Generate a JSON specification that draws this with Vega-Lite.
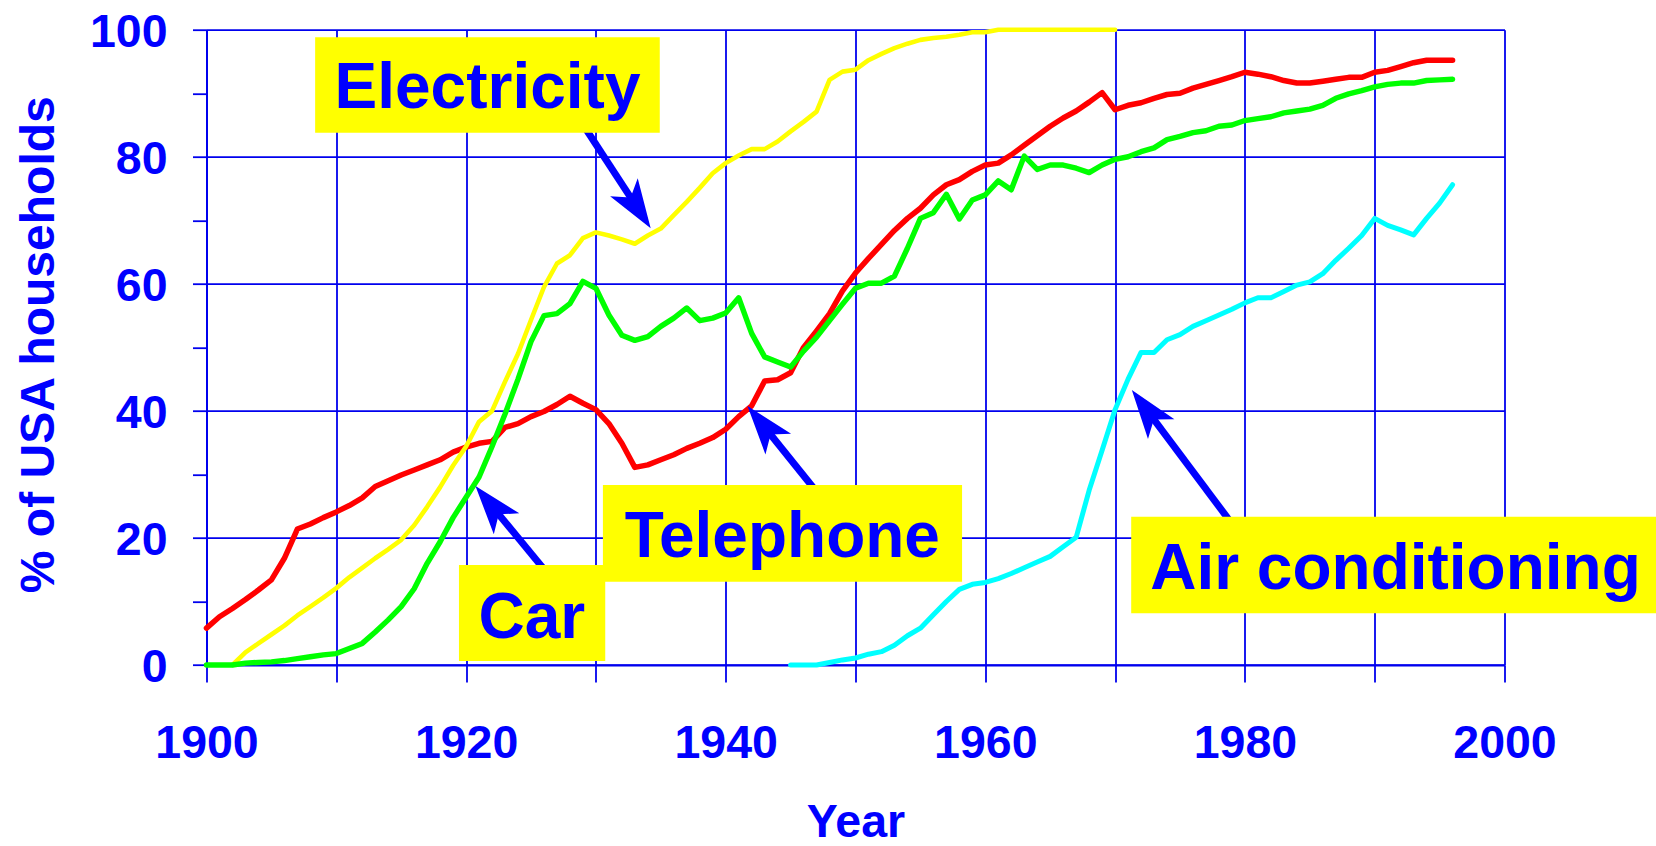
{
  "$schema": "https://vega.github.io/schema/vega-lite/v6.json",
  "width": 1298,
  "height": 635.3,
  "autosize": {"type": "none"},
  "padding": {"left": 206.5, "top": 29.7, "right": 151.5, "bottom": 181},
  "background": "white",
  "config": {
    "view": {"stroke": null},
    "axis": {
      "domainColor": "#0000ee",
      "domainWidth": 2,
      "gridColor": "#0000ee",
      "gridWidth": 1.8,
      "tickColor": "#0000ee",
      "tickWidth": 1.8,
      "labelFont": "Liberation Sans",
      "labelFontWeight": "bold",
      "labelFontSize": 46.5,
      "labelColor": "#0000ff",
      "labelFlush": false,
      "labelOverlap": false,
      "titleFont": "Liberation Sans",
      "titleFontWeight": "bold",
      "titleColor": "#0000ff"
    }
  },
  "datasets": {
    "series": [
      {"series":"Telephone","year":1900,"pct":5.8},{"series":"Telephone","year":1901,"pct":7.6},{"series":"Telephone","year":1902,"pct":8.9},{"series":"Telephone","year":1903,"pct":10.3},{"series":"Telephone","year":1904,"pct":11.8},{"series":"Telephone","year":1905,"pct":13.4},{"series":"Telephone","year":1906,"pct":16.8},{"series":"Telephone","year":1907,"pct":21.4},{"series":"Telephone","year":1908,"pct":22.2},{"series":"Telephone","year":1909,"pct":23.2},{"series":"Telephone","year":1910,"pct":24.1},{"series":"Telephone","year":1911,"pct":25.1},{"series":"Telephone","year":1912,"pct":26.3},{"series":"Telephone","year":1913,"pct":28.1},{"series":"Telephone","year":1914,"pct":29.0},{"series":"Telephone","year":1915,"pct":29.9},{"series":"Telephone","year":1916,"pct":30.7},{"series":"Telephone","year":1917,"pct":31.5},{"series":"Telephone","year":1918,"pct":32.3},{"series":"Telephone","year":1919,"pct":33.5},{"series":"Telephone","year":1920,"pct":34.3},{"series":"Telephone","year":1921,"pct":34.9},{"series":"Telephone","year":1922,"pct":35.2},{"series":"Telephone","year":1923,"pct":37.4},{"series":"Telephone","year":1924,"pct":38.0},{"series":"Telephone","year":1925,"pct":39.1},{"series":"Telephone","year":1926,"pct":39.9},{"series":"Telephone","year":1927,"pct":41.0},{"series":"Telephone","year":1928,"pct":42.3},{"series":"Telephone","year":1929,"pct":41.2},{"series":"Telephone","year":1930,"pct":40.2},{"series":"Telephone","year":1931,"pct":38.0},{"series":"Telephone","year":1932,"pct":34.9},{"series":"Telephone","year":1933,"pct":31.1},{"series":"Telephone","year":1934,"pct":31.5},{"series":"Telephone","year":1935,"pct":32.3},{"series":"Telephone","year":1936,"pct":33.1},{"series":"Telephone","year":1937,"pct":34.1},{"series":"Telephone","year":1938,"pct":34.9},{"series":"Telephone","year":1939,"pct":35.8},{"series":"Telephone","year":1940,"pct":37.1},{"series":"Telephone","year":1941,"pct":39.1},{"series":"Telephone","year":1942,"pct":40.8},{"series":"Telephone","year":1943,"pct":44.7},{"series":"Telephone","year":1944,"pct":44.9},{"series":"Telephone","year":1945,"pct":46.0},{"series":"Telephone","year":1946,"pct":50.0},{"series":"Telephone","year":1947,"pct":52.6},{"series":"Telephone","year":1948,"pct":55.3},{"series":"Telephone","year":1949,"pct":58.9},{"series":"Telephone","year":1950,"pct":61.7},{"series":"Telephone","year":1951,"pct":64.0},{"series":"Telephone","year":1952,"pct":66.2},{"series":"Telephone","year":1953,"pct":68.4},{"series":"Telephone","year":1954,"pct":70.3},{"series":"Telephone","year":1955,"pct":71.9},{"series":"Telephone","year":1956,"pct":74.0},{"series":"Telephone","year":1957,"pct":75.6},{"series":"Telephone","year":1958,"pct":76.4},{"series":"Telephone","year":1959,"pct":77.7},{"series":"Telephone","year":1960,"pct":78.7},{"series":"Telephone","year":1961,"pct":79.0},{"series":"Telephone","year":1962,"pct":80.3},{"series":"Telephone","year":1963,"pct":81.8},{"series":"Telephone","year":1964,"pct":83.3},{"series":"Telephone","year":1965,"pct":84.8},{"series":"Telephone","year":1966,"pct":86.1},{"series":"Telephone","year":1967,"pct":87.2},{"series":"Telephone","year":1968,"pct":88.6},{"series":"Telephone","year":1969,"pct":90.1},{"series":"Telephone","year":1970,"pct":87.4},{"series":"Telephone","year":1971,"pct":88.1},{"series":"Telephone","year":1972,"pct":88.5},{"series":"Telephone","year":1973,"pct":89.2},{"series":"Telephone","year":1974,"pct":89.8},{"series":"Telephone","year":1975,"pct":90.0},{"series":"Telephone","year":1976,"pct":90.8},{"series":"Telephone","year":1977,"pct":91.4},{"series":"Telephone","year":1978,"pct":92.0},{"series":"Telephone","year":1979,"pct":92.6},{"series":"Telephone","year":1980,"pct":93.3},{"series":"Telephone","year":1981,"pct":93.0},{"series":"Telephone","year":1982,"pct":92.6},{"series":"Telephone","year":1983,"pct":92.0},{"series":"Telephone","year":1984,"pct":91.6},{"series":"Telephone","year":1985,"pct":91.6},{"series":"Telephone","year":1986,"pct":91.9},{"series":"Telephone","year":1987,"pct":92.2},{"series":"Telephone","year":1988,"pct":92.5},{"series":"Telephone","year":1989,"pct":92.5},{"series":"Telephone","year":1990,"pct":93.3},{"series":"Telephone","year":1991,"pct":93.6},{"series":"Telephone","year":1992,"pct":94.2},{"series":"Telephone","year":1993,"pct":94.8},{"series":"Telephone","year":1994,"pct":95.2},{"series":"Telephone","year":1995,"pct":95.2},{"series":"Telephone","year":1996,"pct":95.2},
      {"series":"Electricity","year":1902,"pct":0.0},{"series":"Electricity","year":1903,"pct":2.0},{"series":"Electricity","year":1904,"pct":3.4},{"series":"Electricity","year":1905,"pct":4.8},{"series":"Electricity","year":1906,"pct":6.2},{"series":"Electricity","year":1907,"pct":7.8},{"series":"Electricity","year":1908,"pct":9.2},{"series":"Electricity","year":1909,"pct":10.6},{"series":"Electricity","year":1910,"pct":12.1},{"series":"Electricity","year":1911,"pct":13.8},{"series":"Electricity","year":1912,"pct":15.3},{"series":"Electricity","year":1913,"pct":16.8},{"series":"Electricity","year":1914,"pct":18.2},{"series":"Electricity","year":1915,"pct":19.7},{"series":"Electricity","year":1916,"pct":22.0},{"series":"Electricity","year":1917,"pct":24.9},{"series":"Electricity","year":1918,"pct":28.0},{"series":"Electricity","year":1919,"pct":31.4},{"series":"Electricity","year":1920,"pct":34.4},{"series":"Electricity","year":1921,"pct":38.3},{"series":"Electricity","year":1922,"pct":40.0},{"series":"Electricity","year":1923,"pct":44.6},{"series":"Electricity","year":1924,"pct":49.0},{"series":"Electricity","year":1925,"pct":54.3},{"series":"Electricity","year":1926,"pct":59.5},{"series":"Electricity","year":1927,"pct":63.2},{"series":"Electricity","year":1928,"pct":64.5},{"series":"Electricity","year":1929,"pct":67.2},{"series":"Electricity","year":1930,"pct":68.1},{"series":"Electricity","year":1931,"pct":67.6},{"series":"Electricity","year":1932,"pct":67.0},{"series":"Electricity","year":1933,"pct":66.3},{"series":"Electricity","year":1934,"pct":67.6},{"series":"Electricity","year":1935,"pct":68.7},{"series":"Electricity","year":1936,"pct":70.8},{"series":"Electricity","year":1937,"pct":72.9},{"series":"Electricity","year":1938,"pct":75.1},{"series":"Electricity","year":1939,"pct":77.4},{"series":"Electricity","year":1940,"pct":79.0},{"series":"Electricity","year":1941,"pct":80.2},{"series":"Electricity","year":1942,"pct":81.2},{"series":"Electricity","year":1943,"pct":81.2},{"series":"Electricity","year":1944,"pct":82.4},{"series":"Electricity","year":1945,"pct":84.0},{"series":"Electricity","year":1946,"pct":85.5},{"series":"Electricity","year":1947,"pct":87.1},{"series":"Electricity","year":1948,"pct":92.1},{"series":"Electricity","year":1949,"pct":93.4},{"series":"Electricity","year":1950,"pct":93.7},{"series":"Electricity","year":1951,"pct":95.2},{"series":"Electricity","year":1952,"pct":96.2},{"series":"Electricity","year":1953,"pct":97.1},{"series":"Electricity","year":1954,"pct":97.8},{"series":"Electricity","year":1955,"pct":98.4},{"series":"Electricity","year":1956,"pct":98.7},{"series":"Electricity","year":1957,"pct":98.9},{"series":"Electricity","year":1958,"pct":99.2},{"series":"Electricity","year":1959,"pct":99.6},{"series":"Electricity","year":1960,"pct":99.6},{"series":"Electricity","year":1961,"pct":100},{"series":"Electricity","year":1962,"pct":100},{"series":"Electricity","year":1963,"pct":100},{"series":"Electricity","year":1964,"pct":100},{"series":"Electricity","year":1965,"pct":100},{"series":"Electricity","year":1966,"pct":100},{"series":"Electricity","year":1967,"pct":100},{"series":"Electricity","year":1968,"pct":100},{"series":"Electricity","year":1969,"pct":100},{"series":"Electricity","year":1970,"pct":100},
      {"series":"Car","year":1900,"pct":0.0},{"series":"Car","year":1901,"pct":0.0},{"series":"Car","year":1902,"pct":0.0},{"series":"Car","year":1903,"pct":0.3},{"series":"Car","year":1904,"pct":0.4},{"series":"Car","year":1905,"pct":0.5},{"series":"Car","year":1906,"pct":0.7},{"series":"Car","year":1907,"pct":1.0},{"series":"Car","year":1908,"pct":1.3},{"series":"Car","year":1909,"pct":1.6},{"series":"Car","year":1910,"pct":1.8},{"series":"Car","year":1911,"pct":2.6},{"series":"Car","year":1912,"pct":3.4},{"series":"Car","year":1913,"pct":5.2},{"series":"Car","year":1914,"pct":7.1},{"series":"Car","year":1915,"pct":9.2},{"series":"Car","year":1916,"pct":12.0},{"series":"Car","year":1917,"pct":16.0},{"series":"Car","year":1918,"pct":19.4},{"series":"Car","year":1919,"pct":23.2},{"series":"Car","year":1920,"pct":26.4},{"series":"Car","year":1921,"pct":29.6},{"series":"Car","year":1922,"pct":34.4},{"series":"Car","year":1923,"pct":39.5},{"series":"Car","year":1924,"pct":45.0},{"series":"Car","year":1925,"pct":50.9},{"series":"Car","year":1926,"pct":55.0},{"series":"Car","year":1927,"pct":55.3},{"series":"Car","year":1928,"pct":56.9},{"series":"Car","year":1929,"pct":60.4},{"series":"Car","year":1930,"pct":59.3},{"series":"Car","year":1931,"pct":55.1},{"series":"Car","year":1932,"pct":51.9},{"series":"Car","year":1933,"pct":51.1},{"series":"Car","year":1934,"pct":51.7},{"series":"Car","year":1935,"pct":53.3},{"series":"Car","year":1936,"pct":54.6},{"series":"Car","year":1937,"pct":56.2},{"series":"Car","year":1938,"pct":54.2},{"series":"Car","year":1939,"pct":54.6},{"series":"Car","year":1940,"pct":55.4},{"series":"Car","year":1941,"pct":57.8},{"series":"Car","year":1942,"pct":52.2},{"series":"Car","year":1943,"pct":48.5},{"series":"Car","year":1944,"pct":47.7},{"series":"Car","year":1945,"pct":46.9},{"series":"Car","year":1946,"pct":49.4},{"series":"Car","year":1947,"pct":51.6},{"series":"Car","year":1948,"pct":54.2},{"series":"Car","year":1949,"pct":56.8},{"series":"Car","year":1950,"pct":59.3},{"series":"Car","year":1951,"pct":60.1},{"series":"Car","year":1952,"pct":60.1},{"series":"Car","year":1953,"pct":61.2},{"series":"Car","year":1954,"pct":65.6},{"series":"Car","year":1955,"pct":70.3},{"series":"Car","year":1956,"pct":71.2},{"series":"Car","year":1957,"pct":74.1},{"series":"Car","year":1958,"pct":70.2},{"series":"Car","year":1959,"pct":73.2},{"series":"Car","year":1960,"pct":74.0},{"series":"Car","year":1961,"pct":76.2},{"series":"Car","year":1962,"pct":74.8},{"series":"Car","year":1963,"pct":80.1},{"series":"Car","year":1964,"pct":78.0},{"series":"Car","year":1965,"pct":78.7},{"series":"Car","year":1966,"pct":78.7},{"series":"Car","year":1967,"pct":78.2},{"series":"Car","year":1968,"pct":77.5},{"series":"Car","year":1969,"pct":78.7},{"series":"Car","year":1970,"pct":79.6},{"series":"Car","year":1971,"pct":80.0},{"series":"Car","year":1972,"pct":80.8},{"series":"Car","year":1973,"pct":81.4},{"series":"Car","year":1974,"pct":82.7},{"series":"Car","year":1975,"pct":83.2},{"series":"Car","year":1976,"pct":83.8},{"series":"Car","year":1977,"pct":84.1},{"series":"Car","year":1978,"pct":84.8},{"series":"Car","year":1979,"pct":85.0},{"series":"Car","year":1980,"pct":85.7},{"series":"Car","year":1981,"pct":86.0},{"series":"Car","year":1982,"pct":86.3},{"series":"Car","year":1983,"pct":86.9},{"series":"Car","year":1984,"pct":87.2},{"series":"Car","year":1985,"pct":87.5},{"series":"Car","year":1986,"pct":88.1},{"series":"Car","year":1987,"pct":89.2},{"series":"Car","year":1988,"pct":89.9},{"series":"Car","year":1989,"pct":90.4},{"series":"Car","year":1990,"pct":91.0},{"series":"Car","year":1991,"pct":91.4},{"series":"Car","year":1992,"pct":91.6},{"series":"Car","year":1993,"pct":91.6},{"series":"Car","year":1994,"pct":92.0},{"series":"Car","year":1995,"pct":92.1},{"series":"Car","year":1996,"pct":92.2},
      {"series":"Air conditioning","year":1945,"pct":0.0},{"series":"Air conditioning","year":1946,"pct":0.0},{"series":"Air conditioning","year":1947,"pct":0.0},{"series":"Air conditioning","year":1948,"pct":0.4},{"series":"Air conditioning","year":1949,"pct":0.8},{"series":"Air conditioning","year":1950,"pct":1.1},{"series":"Air conditioning","year":1951,"pct":1.7},{"series":"Air conditioning","year":1952,"pct":2.1},{"series":"Air conditioning","year":1953,"pct":3.1},{"series":"Air conditioning","year":1954,"pct":4.6},{"series":"Air conditioning","year":1955,"pct":5.8},{"series":"Air conditioning","year":1956,"pct":7.9},{"series":"Air conditioning","year":1957,"pct":10.0},{"series":"Air conditioning","year":1958,"pct":11.9},{"series":"Air conditioning","year":1959,"pct":12.7},{"series":"Air conditioning","year":1960,"pct":13.0},{"series":"Air conditioning","year":1961,"pct":13.6},{"series":"Air conditioning","year":1962,"pct":14.4},{"series":"Air conditioning","year":1963,"pct":15.3},{"series":"Air conditioning","year":1964,"pct":16.2},{"series":"Air conditioning","year":1965,"pct":17.1},{"series":"Air conditioning","year":1966,"pct":18.6},{"series":"Air conditioning","year":1967,"pct":20.1},{"series":"Air conditioning","year":1968,"pct":27.5},{"series":"Air conditioning","year":1969,"pct":33.8},{"series":"Air conditioning","year":1970,"pct":40.2},{"series":"Air conditioning","year":1971,"pct":45.0},{"series":"Air conditioning","year":1972,"pct":49.2},{"series":"Air conditioning","year":1973,"pct":49.2},{"series":"Air conditioning","year":1974,"pct":51.2},{"series":"Air conditioning","year":1975,"pct":52.0},{"series":"Air conditioning","year":1976,"pct":53.3},{"series":"Air conditioning","year":1977,"pct":54.2},{"series":"Air conditioning","year":1978,"pct":55.1},{"series":"Air conditioning","year":1979,"pct":56.0},{"series":"Air conditioning","year":1980,"pct":57.0},{"series":"Air conditioning","year":1981,"pct":57.8},{"series":"Air conditioning","year":1982,"pct":57.8},{"series":"Air conditioning","year":1983,"pct":58.8},{"series":"Air conditioning","year":1984,"pct":59.8},{"series":"Air conditioning","year":1985,"pct":60.3},{"series":"Air conditioning","year":1986,"pct":61.6},{"series":"Air conditioning","year":1987,"pct":63.7},{"series":"Air conditioning","year":1988,"pct":65.6},{"series":"Air conditioning","year":1989,"pct":67.6},{"series":"Air conditioning","year":1990,"pct":70.3},{"series":"Air conditioning","year":1991,"pct":69.2},{"series":"Air conditioning","year":1992,"pct":68.5},{"series":"Air conditioning","year":1993,"pct":67.7},{"series":"Air conditioning","year":1994,"pct":70.3},{"series":"Air conditioning","year":1995,"pct":72.7},{"series":"Air conditioning","year":1996,"pct":75.6}
    ],
    "boxes": [
      {"label":"Electricity","x1":1908.37,"x2":1934.92,"y1":98.8,"y2":83.79,"tx":1921.65,"ty":87.67},
      {"label":"Telephone","x1":1930.54,"x2":1958.21,"y1":28.33,"y2":13.11,"tx":1944.36,"ty":17.05},
      {"label":"Car","x1":1919.45,"x2":1930.72,"y1":15.74,"y2":0.63,"tx":1925.06,"ty":4.3},
      {"label":"Air conditioning","x1":1971.24,"x2":2011.98,"y1":23.34,"y2":8.14,"tx":1991.6,"ty":11.96}
    ],
    "arrows": [
      {"label":"Electricity","xt":1929.09,"yt":84.8,"xe":1932.96,"ye":72.69,"xh":1934.22,"yh":68.74},
      {"label":"Telephone","xt":1946.97,"yt":27.36,"xe":1943.13,"ye":37.1,"xh":1941.68,"yh":40.77},
      {"label":"Car","xt":1926.08,"yt":14.87,"xe":1922.19,"ye":24.52,"xh":1920.72,"yh":28.18},
      {"label":"Air conditioning","xt":1978.96,"yt":22.34,"xe":1972.68,"ye":39.5,"xh":1971.29,"yh":43.29}
    ]
  },
  "layer": [
    {
      "data": {"name": "series"},
      "transform": [{"filter": "datum.series === 'Telephone'"}],
      "mark": {"type": "line", "color": "#ff0000", "strokeWidth": 5.5, "strokeCap": "round", "strokeJoin": "round"},
      "encoding": {
        "x": {
          "field": "year", "type": "quantitative",
          "scale": {"domain": [1900, 2000], "nice": false, "zero": false},
          "axis": {
            "title": "Year",
            "titleFontSize": 46.5,
            "titleBaseline": "alphabetic",
            "titleY": 171,
            "values": [1900,1910,1920,1930,1940,1950,1960,1970,1980,1990,2000],
            "format": "d",
            "labelExpr": "datum.value % 20 === 0 ? datum.label : ''",
            "tickSize": 17,
            "labelBaseline": "alphabetic",
            "labelPadding": 75,
            "grid": true
          }
        },
        "y": {
          "field": "pct", "type": "quantitative",
          "scale": {"domain": [0, 100], "nice": false},
          "axis": {
            "title": "% of USA households",
            "titleFontSize": 48,
            "titleAngle": -90,
            "titleBaseline": "alphabetic",
            "titleAlign": "center",
            "titleX": -152.9,
            "titleY": 314.5,
            "values": [0,10,20,30,40,50,60,70,80,90,100],
            "labelExpr": "datum.value % 20 === 0 ? datum.label : ''",
            "labelBaseline": "alphabetic",
            "labelOffset": 16.6,
            "labelPadding": 25.5,
            "tickSize": 14,
            "grid": true,
            "gridOpacity": {"condition": {"test": "datum.value % 20 === 0", "value": 1}, "value": 0}
          }
        }
      }
    },
    {
      "data": {"name": "series"},
      "transform": [{"filter": "datum.series === 'Electricity'"}],
      "mark": {"type": "line", "color": "#ffff00", "strokeWidth": 4.6, "strokeCap": "round", "strokeJoin": "round"},
      "encoding": {
        "x": {"field": "year", "type": "quantitative"},
        "y": {"field": "pct", "type": "quantitative"}
      }
    },
    {
      "data": {"name": "series"},
      "transform": [{"filter": "datum.series === 'Car'"}],
      "mark": {"type": "line", "color": "#00ff00", "strokeWidth": 5.4, "strokeCap": "round", "strokeJoin": "round"},
      "encoding": {
        "x": {"field": "year", "type": "quantitative"},
        "y": {"field": "pct", "type": "quantitative"}
      }
    },
    {
      "data": {"name": "series"},
      "transform": [{"filter": "datum.series === 'Air conditioning'"}],
      "mark": {"type": "line", "color": "#00ffff", "strokeWidth": 5, "strokeCap": "round", "strokeJoin": "round"},
      "encoding": {
        "x": {"field": "year", "type": "quantitative"},
        "y": {"field": "pct", "type": "quantitative"}
      }
    },
    {
      "data": {"name": "arrows"},
      "mark": {"type": "rule", "color": "#0000ff", "strokeWidth": 7, "strokeCap": "butt"},
      "encoding": {
        "x": {"field": "xt", "type": "quantitative"},
        "y": {"field": "yt", "type": "quantitative"},
        "x2": {"field": "xe"},
        "y2": {"field": "ye"}
      }
    },
    {
      "data": {"name": "arrows"},
      "transform": [{"filter": "datum.label === 'Electricity'"}],
      "mark": {"type": "point", "shape": "M0,0 L0.673,2 L0,1.5 L-0.673,2 Z", "filled": true, "opacity": 1, "color": "#0000ff", "strokeWidth": 0, "size": 2401, "angle": 146.9},
      "encoding": {
        "x": {"field": "xh", "type": "quantitative"},
        "y": {"field": "yh", "type": "quantitative"}
      }
    },
    {
      "data": {"name": "arrows"},
      "transform": [{"filter": "datum.label === 'Telephone'"}],
      "mark": {"type": "point", "shape": "M0,0 L0.673,2 L0,1.5 L-0.673,2 Z", "filled": true, "opacity": 1, "color": "#0000ff", "strokeWidth": 0, "size": 2401, "angle": 321.1},
      "encoding": {
        "x": {"field": "xh", "type": "quantitative"},
        "y": {"field": "yh", "type": "quantitative"}
      }
    },
    {
      "data": {"name": "arrows"},
      "transform": [{"filter": "datum.label === 'Car'"}],
      "mark": {"type": "point", "shape": "M0,0 L0.673,2 L0,1.5 L-0.673,2 Z", "filled": true, "opacity": 1, "color": "#0000ff", "strokeWidth": 0, "size": 2401, "angle": 320.6},
      "encoding": {
        "x": {"field": "xh", "type": "quantitative"},
        "y": {"field": "yh", "type": "quantitative"}
      }
    },
    {
      "data": {"name": "arrows"},
      "transform": [{"filter": "datum.label === 'Air conditioning'"}],
      "mark": {"type": "point", "shape": "M0,0 L0.673,2 L0,1.5 L-0.673,2 Z", "filled": true, "opacity": 1, "color": "#0000ff", "strokeWidth": 0, "size": 2401, "angle": 323.2},
      "encoding": {
        "x": {"field": "xh", "type": "quantitative"},
        "y": {"field": "yh", "type": "quantitative"}
      }
    },
    {
      "data": {"name": "boxes"},
      "mark": {"type": "rect", "color": "#ffff00", "opacity": 1},
      "encoding": {
        "x": {"field": "x1", "type": "quantitative"},
        "x2": {"field": "x2"},
        "y": {"field": "y1", "type": "quantitative"},
        "y2": {"field": "y2"}
      }
    },
    {
      "data": {"name": "boxes"},
      "mark": {"type": "text", "font": "Liberation Sans", "fontWeight": "bold", "fontSize": 64, "color": "#0000ff", "align": "center", "baseline": "alphabetic"},
      "encoding": {
        "x": {"field": "tx", "type": "quantitative"},
        "y": {"field": "ty", "type": "quantitative"},
        "text": {"field": "label"}
      }
    }
  ]
}
